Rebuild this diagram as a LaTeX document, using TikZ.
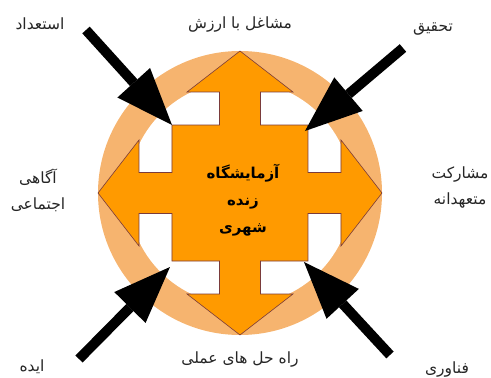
\documentclass[tikz,border=0pt]{standalone}
\usepackage{fontspec}
\usepackage{tikz}
\usetikzlibrary{arrows.meta, positioning}
\TeXXeTstate=1
\newfontfamily\persianfont[Script=Arabic]{DejaVu Sans}
\newcommand{\fa}[1]{\beginR #1\endR}
\definecolor{ringorange}{HTML}{F6B46F}
\definecolor{quadorange}{HTML}{FF9A00}
\definecolor{quadedge}{HTML}{7A3B3B}

\begin{document}
\begin{tikzpicture}[x=1pt, y=1pt,
    lbl/.style={font=\persianfont\fontsize{15.5}{26}\selectfont, align=center, text=black!85},
    hub/.style={font=\persianfont\bfseries\fontsize{15}{27}\selectfont, align=center},
    push/.style={line width=10pt, -{Triangle[length=57pt, width=44pt, line width=0pt]}}]
    \useasboundingbox (-240,-185) rectangle (251,193);
    % Halqe
    \fill[ringorange] (0,0) circle (142);
    \fill[white] (0,0) circle (112);
    % Peykan-e chahar-su
    \draw[fill=quadorange, draw=quadedge, line width=0.6pt, line join=miter]
        (0,142) -- (53,101) -- (20.5,101) -- (20.5,68) -- (68,68) -- (68,20.5)
        -- (101,20.5) -- (101,53) -- (142,0) -- (101,-53) -- (101,-20.5) -- (68,-20.5)
        -- (68,-68) -- (20.5,-68) -- (20.5,-101) -- (53,-101) -- (0,-142) -- (-53,-101)
        -- (-20.5,-101) -- (-20.5,-68) -- (-68,-68) -- (-68,-20.5) -- (-101,-20.5)
        -- (-101,-53) -- (-142,0) -- (-101,53) -- (-101,20.5) -- (-68,20.5) -- (-68,68)
        -- (-20.5,68) -- (-20.5,101) -- (-53,101) -- cycle;
    \node[hub] (hub) at (3,-7) {\fa{آزمایشگاه}\\\fa{زنده}\\\fa{شهری}};
    % Barchasb-ha
    \node[lbl] (jobs) at (0,168) {\fa{مشاغل با ارزش}};
    \node[lbl] (talent) at (-200,169) {\fa{استعداد}};
    \node[lbl] (research) at (193,164) {\fa{تحقیق}};
    \node[lbl] (aware) at (-202,3) {\fa{آگاهی}\\\fa{اجتماعی}};
    \node[lbl] (partic) at (220,6) {\fa{مشارکت}\\\fa{متعهدانه}};
    \node[lbl] (idea) at (-208,-174) {\fa{ایده}};
    \node[lbl] (solve) at (0,-167) {\fa{راه حل های عملی}};
    \node[lbl] (tech) at (207,-177) {\fa{فناوری}};
    % Peykan-haye siah
    \coordinate (tlTail) at (-154,163);
    \coordinate (tlTip) at (-68,68);
    \coordinate (trTail) at (163,145);
    \coordinate (trTip) at (65,62);
    \coordinate (blTail) at (-161,-166);
    \coordinate (blTip) at (-70,-74);
    \coordinate (brTail) at (150,-162);
    \coordinate (brTip) at (64,-69);
    \draw[push] (tlTail) -- (tlTip);
    \draw[push] (trTail) -- (trTip);
    \draw[push] (blTail) -- (blTip);
    \draw[push] (brTail) -- (brTip);
\end{tikzpicture}
\end{document}
